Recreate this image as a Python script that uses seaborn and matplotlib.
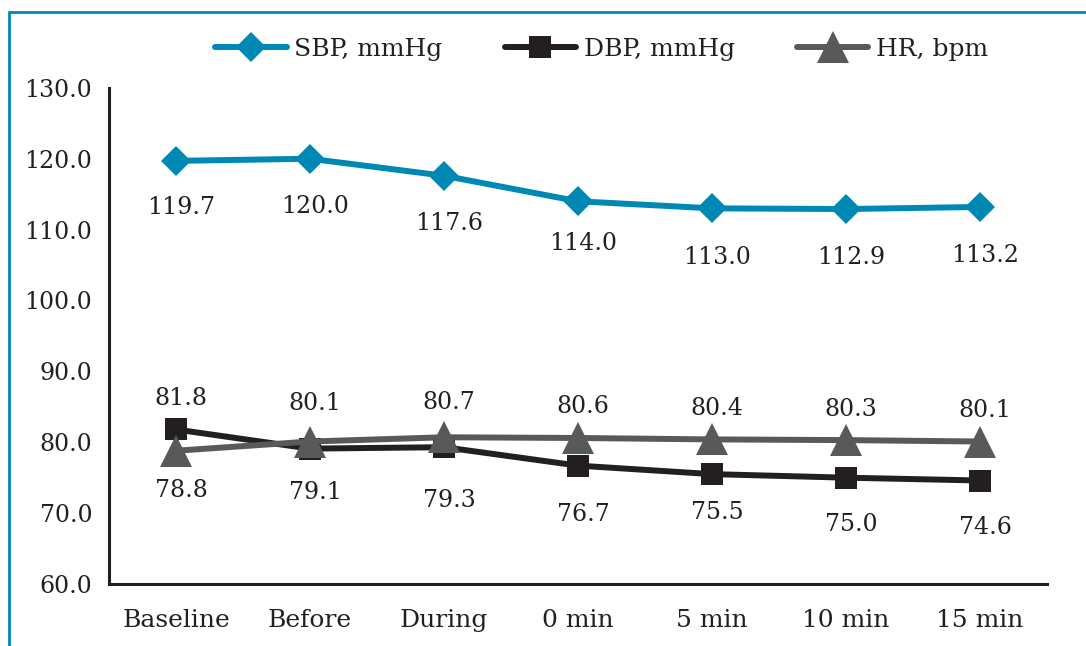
import matplotlib
matplotlib.use("Agg")
import matplotlib.pyplot as plt
from matplotlib.lines import Line2D
import seaborn as sns
import pandas as pd

# Time points and measured values
categories = ["Baseline", "Before", "During", "0 min", "5 min", "10 min", "15 min"]
sbp = [119.7, 120.0, 117.6, 114.0, 113.0, 112.9, 113.2]
dbp = [81.8, 79.1, 79.3, 76.7, 75.5, 75.0, 74.6]
hr = [78.8, 80.1, 80.7, 80.6, 80.4, 80.3, 80.1]
y_ticks = [60.0, 70.0, 80.0, 90.0, 100.0, 110.0, 120.0, 130.0]

TEXT = "#231F20"
BLUE = "#0088B5"
GRAY = "#58595B"

sns.set_theme(style="white")
plt.rcParams["font.family"] = ["DejaVu Serif"]
plt.rcParams["text.color"] = TEXT

fig = plt.figure(figsize=(10.86, 6.46), dpi=100)
ax = fig.add_axes([0.1004, 0.096, 0.8637, 0.768])

x = list(range(len(categories)))
series = [
    ("SBP, mmHg", sbp, BLUE, "D", 15, 4.3),
    ("DBP, mmHg", dbp, TEXT, "s", 16, 4.3),
    ("HR, bpm", hr, GRAY, "^", 23, 4.3),
]
for name, vals, color, mk, ms, lw in series:
    df = pd.DataFrame({"x": x, "y": vals})
    sns.lineplot(data=df, x="x", y="y", ax=ax, color=color, marker=mk,
                 markersize=ms, markeredgewidth=0, linewidth=lw, label=name,
                 legend=True)

# Data labels (offsets in pixels; positive = below the point)
sbp_off = [47, 48, 48, 42, 49, 48, 49]
dbp_off = [-31, 44, 53, 49, 38, 47, 47]
hr_off = [40, -38, -35, -31, -31, -31, -31]
for vals, offs in [(sbp, sbp_off), (dbp, dbp_off), (hr, hr_off)]:
    for xi, v, o in zip(x, vals, offs):
        ax.annotate(f"{v:.1f}", (xi, v), xytext=(5, -o), textcoords="offset pixels",
                    ha="center", va="center", fontsize=17, color=TEXT)

ax.set_xlim(-0.5, len(categories) - 0.5)
ax.set_ylim(60, 130)
ax.set_xticks(x)
ax.set_xticklabels(categories)
ax.set_yticks(y_ticks)
ax.set_yticklabels([f"{t:.1f}" for t in y_ticks])
ax.tick_params(axis="both", length=0, labelcolor=TEXT)
ax.tick_params(axis="x", pad=18, labelsize=18)
ax.tick_params(axis="y", pad=12, labelsize=17)
ax.set_xlabel("")
ax.set_ylabel("")
ax.grid(False)
for side in ["top", "right"]:
    ax.spines[side].set_visible(False)
for side in ["left", "bottom"]:
    ax.spines[side].set_color(TEXT)
    ax.spines[side].set_linewidth(2.2)

handles, labels = ax.get_legend_handles_labels()
ax.get_legend().remove()
fig.legend(handles, labels, loc="center", bbox_to_anchor=(0.554, 0.924), ncol=3,
           frameon=False, fontsize=18, handlelength=2.85, handletextpad=0.3,
           columnspacing=2.5)

# Blue frame along the top and left edges
fig.add_artist(Line2D([9 / 1086, 1.0], [1 - 12 / 646, 1 - 12 / 646],
                      transform=fig.transFigure, color=BLUE, linewidth=2))
fig.add_artist(Line2D([9 / 1086, 9 / 1086], [0.0, 1 - 12 / 646],
                      transform=fig.transFigure, color=BLUE, linewidth=2))

fig.savefig("out.png", dpi=100)
